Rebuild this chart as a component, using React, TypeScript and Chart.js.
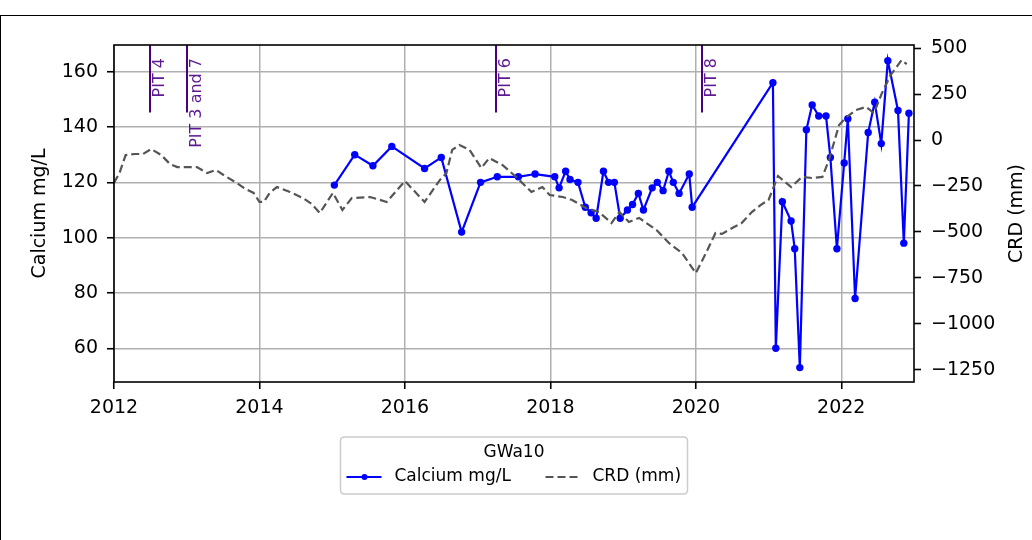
import React, { useEffect, useRef } from 'react';
import { Chart, registerables } from 'chart.js';

Chart.register(...registerables);

// ---- data ----
const calciumDates = [
  2015.03, 2015.31, 2015.56, 2015.82, 2016.27, 2016.5, 2016.78, 2017.04, 2017.27, 2017.56,
  2017.79, 2018.06, 2018.12, 2018.21, 2018.27, 2018.38, 2018.48, 2018.56, 2018.63, 2018.73,
  2018.8, 2018.88, 2018.96, 2019.06, 2019.13, 2019.21, 2019.28, 2019.4, 2019.47, 2019.55,
  2019.63, 2019.69, 2019.77, 2019.91, 2019.95, 2021.06, 2021.1, 2021.19, 2021.31, 2021.36,
  2021.43, 2021.52, 2021.6, 2021.69, 2021.79, 2021.85, 2021.94, 2022.04, 2022.09, 2022.19,
  2022.37, 2022.46, 2022.55, 2022.64, 2022.78, 2022.86, 2022.93,
];
const calciumValues = [
  119, 130, 126, 133, 125, 129, 102, 120, 122, 122,
  123, 122, 118, 124, 121, 120, 111, 109, 107, 124,
  120, 120, 107, 110, 112, 116, 110, 118, 120, 117,
  124, 120, 116, 123, 111, 156, 60, 113, 106, 96,
  53, 139, 148, 144, 144, 129, 96, 127, 143, 78,
  138, 149, 134, 164, 146, 98, 145,
];
const crdDates = [
  2012.0, 2012.08, 2012.16, 2012.29, 2012.4, 2012.51, 2012.65, 2012.77, 2012.87, 2013.0,
  2013.14, 2013.28, 2013.4, 2013.55, 2013.69, 2013.81, 2013.92, 2014.0, 2014.06, 2014.14,
  2014.24, 2014.42, 2014.6, 2014.72, 2014.83, 2015.01, 2015.14, 2015.27, 2015.52, 2015.75,
  2016.0, 2016.27, 2016.48, 2016.57, 2016.65, 2016.75, 2016.89, 2017.05, 2017.16, 2017.34,
  2017.53, 2017.74, 2017.89, 2017.99, 2018.17, 2018.3, 2018.49, 2018.67, 2018.84, 2018.95,
  2019.08, 2019.22, 2019.46, 2019.63, 2019.81, 2020.0, 2020.14, 2020.27, 2020.36, 2020.5,
  2020.63, 2020.77, 2020.89, 2021.0, 2021.13, 2021.31, 2021.46, 2021.6, 2021.74, 2021.83,
  2021.97, 2022.06, 2022.2, 2022.34, 2022.45, 2022.56, 2022.68, 2022.83, 2022.9,
];
const crdValues = [
  -234, -174, -82, -76, -76, -49, -82, -131, -147, -147,
  -147, -180, -163, -201, -234, -267, -288, -337, -337, -288,
  -256, -283, -316, -348, -397, -288, -381, -316, -310, -337,
  -223, -337, -218, -180, -54, -27, -54, -152, -98, -136,
  -201, -283, -256, -299, -310, -326, -370, -392, -452, -392,
  -446, -424, -490, -560, -615, -724, -615, -506, -511, -479,
  -452, -392, -354, -326, -196, -256, -201, -207, -201, -109,
  82, 120, 163, 180, 147, 256, 354, 435, 413,
];
const pitLabels = ['PIT 4', 'PIT 3 and 7', 'PIT 6', 'PIT 8'];
const pitDates = [2012.5, 2013.0, 2017.25, 2020.08];

const xTicks = [2012, 2014, 2016, 2018, 2020, 2022];
const leftTicks = [60, 80, 100, 120, 140, 160];
const rightTicks = [-1250, -1000, -750, -500, -250, 0, 250, 500];

const legendTitle = 'GWa10';
const calciumLabel = 'Calcium mg/L';
const crdLabel = 'CRD (mm)';
const leftAxisTitle = 'Calcium mg/L';
const rightAxisTitle = 'CRD (mm)';

const FONT = '"DejaVu Sans", sans-serif';
const BLUE = '#0000ff';
const GRAY = '#555555';
const PURPLE = '#4b0082';
const GRID = '#b0b0b0';

const fmt = (v: number) => (v < 0 ? '\u2212' + Math.abs(v) : String(v));

const decorPlugin = {
  id: 'decor',
  beforeDatasetsDraw(chart: any) {
    const { ctx, chartArea: a, scales } = chart;
    const xs = scales.x;
    ctx.save();
    pitDates.forEach((d, i) => {
      const px = Math.round(xs.getPixelForValue(d));
      ctx.strokeStyle = PURPLE;
      ctx.lineWidth = 2;
      ctx.beginPath();
      ctx.moveTo(px, a.top);
      ctx.lineTo(px, a.top + 0.2 * (a.bottom - a.top));
      ctx.stroke();
      ctx.save();
      ctx.translate(px + 1.5, a.top + 13);
      ctx.rotate(-Math.PI / 2);
      ctx.font = `16px ${FONT}`;
      ctx.fillStyle = 'rgba(75,0,130,0.9)';
      ctx.textAlign = 'right';
      ctx.textBaseline = 'top';
      ctx.fillText(pitLabels[i], 0, 0);
      ctx.restore();
    });
    ctx.restore();
  },
  afterDraw(chart: any) {
    const { ctx, chartArea: a } = chart;
    ctx.save();
    // axes frame
    ctx.strokeStyle = '#000';
    ctx.lineWidth = 1.6;
    ctx.strokeRect(a.left, a.top, a.right - a.left, a.bottom - a.top);

    // axis titles
    const midY = (a.top + a.bottom) / 2;
    ctx.fillStyle = '#000';
    ctx.font = `19px ${FONT}`;
    ctx.textAlign = 'center';
    ctx.textBaseline = 'middle';
    ctx.save();
    ctx.translate(a.left - 74, midY);
    ctx.rotate(-Math.PI / 2);
    ctx.fillText(leftAxisTitle, 0, 0);
    ctx.restore();
    ctx.save();
    ctx.translate(a.right + 103, midY);
    ctx.rotate(-Math.PI / 2);
    ctx.fillText(rightAxisTitle, 0, 0);
    ctx.restore();

    // legend
    const cx = (a.left + a.right) / 2;
    const bw = 347;
    const bh = 57;
    const bx = cx - bw / 2;
    const by = a.bottom + 55;
    ctx.beginPath();
    const r = 4;
    ctx.moveTo(bx + r, by);
    ctx.lineTo(bx + bw - r, by);
    ctx.quadraticCurveTo(bx + bw, by, bx + bw, by + r);
    ctx.lineTo(bx + bw, by + bh - r);
    ctx.quadraticCurveTo(bx + bw, by + bh, bx + bw - r, by + bh);
    ctx.lineTo(bx + r, by + bh);
    ctx.quadraticCurveTo(bx, by + bh, bx, by + bh - r);
    ctx.lineTo(bx, by + r);
    ctx.quadraticCurveTo(bx, by, bx + r, by);
    ctx.closePath();
    ctx.fillStyle = 'rgba(255,255,255,0.8)';
    ctx.fill();
    ctx.strokeStyle = '#cccccc';
    ctx.lineWidth = 1.5;
    ctx.stroke();

    ctx.font = `17px ${FONT}`;
    ctx.fillStyle = '#000';
    ctx.textAlign = 'center';
    ctx.textBaseline = 'middle';
    ctx.fillText(legendTitle, cx, by + 16);

    const rowY = by + 40;
    ctx.strokeStyle = BLUE;
    ctx.lineWidth = 2;
    ctx.setLineDash([]);
    ctx.beginPath();
    ctx.moveTo(bx + 6, rowY);
    ctx.lineTo(bx + 41, rowY);
    ctx.stroke();
    ctx.fillStyle = BLUE;
    ctx.beginPath();
    ctx.arc(bx + 24, rowY, 3, 0, Math.PI * 2);
    ctx.fill();

    ctx.fillStyle = '#000';
    ctx.textAlign = 'left';
    ctx.fillText(calciumLabel, bx + 54, rowY);

    ctx.strokeStyle = GRAY;
    ctx.setLineDash([8, 4]);
    ctx.beginPath();
    ctx.moveTo(bx + 205, rowY);
    ctx.lineTo(bx + 238, rowY);
    ctx.stroke();
    ctx.setLineDash([]);
    ctx.fillText(crdLabel, bx + 252, rowY);

    // figure border
    ctx.strokeStyle = '#000';
    ctx.lineWidth = 1;
    ctx.strokeRect(0.5, 15.5, 1200, 700);
    ctx.restore();
  },
};

export default function App() {
  const ref = useRef<HTMLCanvasElement | null>(null);

  useEffect(() => {
    if (!ref.current) return;
    const tickFont = { family: FONT, size: 19 };
    const chart = new Chart(ref.current, {
      type: 'line',
      data: {
        datasets: [
          {
            label: crdLabel,
            data: crdDates.map((d, i) => ({ x: d, y: crdValues[i] })),
            yAxisID: 'y1',
            borderColor: GRAY,
            borderWidth: 2.2,
            borderDash: [8, 4],
            pointRadius: 0,
            tension: 0,
            fill: false,
          },
          {
            label: calciumLabel,
            data: calciumDates.map((d, i) => ({ x: d, y: calciumValues[i] })),
            yAxisID: 'y',
            borderColor: BLUE,
            backgroundColor: BLUE,
            borderWidth: 2.2,
            pointRadius: 3.7,
            pointBorderWidth: 0,
            pointBackgroundColor: BLUE,
            tension: 0,
            fill: false,
          },
        ],
      },
      options: {
        responsive: false,
        animation: false,
        devicePixelRatio: 1,
        layout: { padding: { top: 45, left: 0, right: 0, bottom: 0 } },
        plugins: { legend: { display: false }, tooltip: { enabled: false } },
        scales: {
          x: {
            type: 'linear',
            position: 'bottom',
            min: 2012,
            max: 2023,
            afterBuildTicks: (s: any) => {
              s.ticks = xTicks.map((v) => ({ value: v }));
            },
            afterFit: (s: any) => {
              s.height = 158;
            },
            border: { display: false },
            grid: {
              color: GRID,
              lineWidth: 1.5,
              tickColor: '#000',
              tickWidth: 1.6,
              tickLength: 7,
            },
            ticks: {
              font: tickFont,
              color: '#000',
              padding: 8,
              maxRotation: 0,
              autoSkip: false,
              callback: (v: any) => String(v),
            },
          },
          y: {
            type: 'linear',
            position: 'left',
            min: 47.8,
            max: 169.66,
            afterBuildTicks: (s: any) => {
              s.ticks = leftTicks.map((v) => ({ value: v }));
            },
            afterFit: (s: any) => {
              s.width = 114;
            },
            border: { display: false },
            grid: {
              color: GRID,
              lineWidth: 1.5,
              tickColor: '#000',
              tickWidth: 1.6,
              tickLength: 7,
            },
            ticks: {
              font: tickFont,
              color: '#000',
              padding: 9,
              autoSkip: false,
              callback: (v: any) => fmt(v),
            },
          },
          y1: {
            type: 'linear',
            position: 'right',
            min: -1316.6,
            max: 516.9,
            afterBuildTicks: (s: any) => {
              s.ticks = rightTicks.map((v) => ({ value: v }));
            },
            afterFit: (s: any) => {
              s.width = 118;
            },
            border: { display: false },
            grid: {
              drawOnChartArea: false,
              tickColor: '#000',
              tickWidth: 1.6,
              tickLength: 7,
            },
            ticks: {
              font: tickFont,
              color: '#000',
              padding: 10,
              autoSkip: false,
              callback: (v: any) => fmt(v),
            },
          },
        },
      },
      plugins: [decorPlugin],
    } as any);
    return () => chart.destroy();
  }, []);

  return (
    <div style={{ position: 'absolute', left: 0, top: 0, width: 1032, height: 540, background: '#fff' }}>
      <canvas ref={ref} width={1032} height={540} style={{ display: 'block' }} />
    </div>
  );
}
